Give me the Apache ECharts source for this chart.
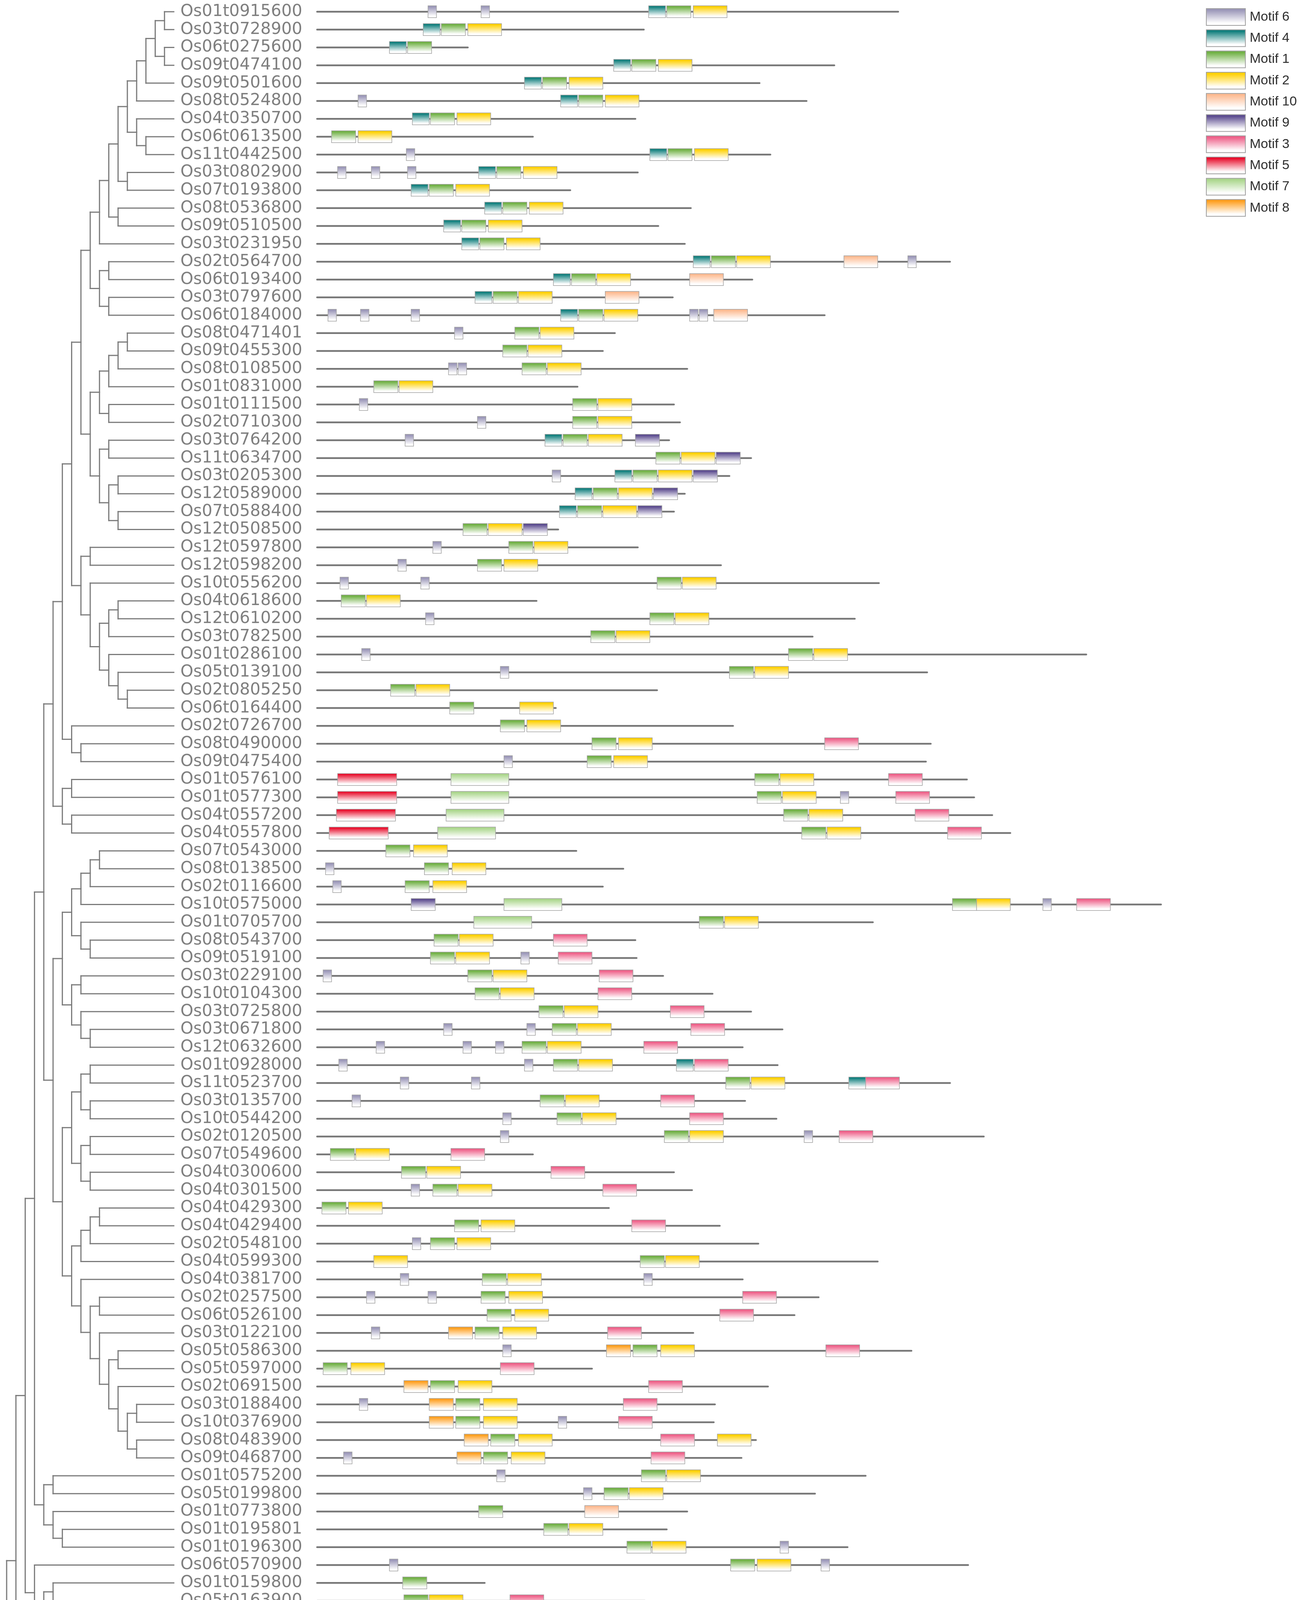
<!DOCTYPE html>
<html>
<head>
<meta charset="utf-8">
<title>Motif structure</title>
<script src="https://cdn.jsdelivr.net/npm/echarts@6/dist/echarts.min.js"></script>
<style>
    html, body { margin: 0; padding: 0; background: #fff; }
    #mainChart { width: 3334px; height: 4949px; }
</style>
</head>
<body>
<div id="mainChart"></div>
<script>
// gene order, top to bottom
var genes = [
    "Os01t0915600", "Os03t0728900", "Os06t0275600", "Os09t0474100", "Os09t0501600", "Os08t0524800",
    "Os04t0350700", "Os06t0613500", "Os11t0442500", "Os03t0802900", "Os07t0193800", "Os08t0536800",
    "Os09t0510500", "Os03t0231950", "Os02t0564700", "Os06t0193400", "Os03t0797600", "Os06t0184000",
    "Os08t0471401", "Os09t0455300", "Os08t0108500", "Os01t0831000", "Os01t0111500", "Os02t0710300",
    "Os03t0764200", "Os11t0634700", "Os03t0205300", "Os12t0589000", "Os07t0588400", "Os12t0508500",
    "Os12t0597800", "Os12t0598200", "Os10t0556200", "Os04t0618600", "Os12t0610200", "Os03t0782500",
    "Os01t0286100", "Os05t0139100", "Os02t0805250", "Os06t0164400", "Os02t0726700", "Os08t0490000",
    "Os09t0475400", "Os01t0576100", "Os01t0577300", "Os04t0557200", "Os04t0557800", "Os07t0543000",
    "Os08t0138500", "Os02t0116600", "Os10t0575000", "Os01t0705700", "Os08t0543700", "Os09t0519100",
    "Os03t0229100", "Os10t0104300", "Os03t0725800", "Os03t0671800", "Os12t0632600", "Os01t0928000",
    "Os11t0523700", "Os03t0135700", "Os10t0544200", "Os02t0120500", "Os07t0549600", "Os04t0300600",
    "Os04t0301500", "Os04t0429300", "Os04t0429400", "Os02t0548100", "Os04t0599300", "Os04t0381700",
    "Os02t0257500", "Os06t0526100", "Os03t0122100", "Os05t0586300", "Os05t0597000", "Os02t0691500",
    "Os03t0188400", "Os10t0376900", "Os08t0483900", "Os09t0468700", "Os01t0575200", "Os05t0199800",
    "Os01t0773800", "Os01t0195801", "Os01t0196300", "Os06t0570900", "Os01t0159800", "Os05t0163900",
    "Os01t0218100", "Os08t0477900", "Os03t0811400", "Os03t0260600", "Os08t0432800", "Os09t0410700",
    "Os02t0221100", "Os04t0489600", "Os05t0455400", "Os07t0143200", "Os08t0506700", "Os09t0487900",
    "Os01t0900800", "Os09t0463900", "Os01t0952800", "Os02t0433600"
];

var geneLength = [
    482, 271, 125, 429, 367, 406, 264, 179, 376, 266, 210, 310, 283, 305, 525, 361, 295, 421,
    247, 237, 307, 216, 296, 301, 292, 360, 342, 305, 296, 200, 266, 335, 466, 182, 446, 411,
    638, 506, 282, 198, 345, 509, 505, 539, 545, 560, 575, 215, 254, 237, 700, 461, 264, 265,
    287, 328, 360, 386, 353, 382, 525, 355, 381, 553, 179, 296, 311, 242, 334, 366, 465, 353,
    416, 396, 312, 493, 228, 374, 330, 329, 364, 352, 455, 413, 307, 290, 440, 540, 139, 272,
    268, 224, 269, 410, 346, 364, 648, 171, 79, 248, 400, 402, 176, 266, 181, 344
];

// [motif, start] for every gene, same order as genes
var motifSites = [
    [[6, 92], [6, 136], [4, 275], [1, 290], [2, 312]],
    [[4, 88], [1, 103], [2, 125]],
    [[4, 60], [1, 75]],
    [[4, 246], [1, 261], [2, 283]],
    [[4, 172], [1, 187], [2, 209]],
    [[6, 34], [4, 202], [1, 217], [2, 239]],
    [[4, 79], [1, 94], [2, 116]],
    [[1, 12], [2, 34]],
    [[6, 74], [4, 276], [1, 291], [2, 313]],
    [[6, 17], [6, 45], [6, 75], [4, 134], [1, 149], [2, 171]],
    [[4, 78], [1, 93], [2, 115]],
    [[4, 139], [1, 154], [2, 176]],
    [[4, 105], [1, 120], [2, 142]],
    [[4, 120], [1, 135], [2, 157]],
    [[4, 312], [1, 327], [2, 348], [10, 437], [6, 490]],
    [[4, 196], [1, 211], [2, 232], [10, 309]],
    [[4, 131], [1, 146], [2, 167], [10, 239]],
    [[6, 9], [6, 36], [6, 78], [4, 202], [1, 217], [2, 238], [6, 309], [6, 317], [10, 329]],
    [[6, 114], [1, 164], [2, 185]],
    [[1, 154], [2, 175]],
    [[6, 109], [6, 117], [1, 170], [2, 191]],
    [[1, 47], [2, 68]],
    [[6, 35], [1, 212], [2, 233]],
    [[6, 133], [1, 212], [2, 233]],
    [[6, 73], [4, 189], [1, 204], [2, 225], [9, 264]],
    [[1, 281], [2, 302], [9, 331]],
    [[6, 195], [4, 247], [1, 262], [2, 283], [9, 312]],
    [[4, 214], [1, 229], [2, 250], [9, 279]],
    [[4, 201], [1, 216], [2, 237], [9, 266]],
    [[1, 121], [2, 142], [9, 171]],
    [[6, 96], [1, 159], [2, 180]],
    [[6, 67], [1, 133], [2, 155]],
    [[6, 19], [6, 86], [1, 282], [2, 303]],
    [[1, 20], [2, 41]],
    [[6, 90], [1, 276], [2, 297]],
    [[1, 227], [2, 248]],
    [[6, 37], [1, 391], [2, 412]],
    [[6, 152], [1, 342], [2, 363]],
    [[1, 61], [2, 82]],
    [[1, 110], [2, 168]],
    [[1, 152], [2, 174]],
    [[1, 228], [2, 250], [3, 421]],
    [[6, 155], [1, 224], [2, 246]],
    [[5, 17], [7, 111], [1, 363], [2, 384], [3, 474]],
    [[5, 17], [7, 111], [1, 365], [2, 386], [6, 434], [3, 480]],
    [[5, 16], [7, 107], [1, 387], [2, 408], [3, 496]],
    [[5, 10], [7, 100], [1, 402], [2, 423], [3, 523]],
    [[1, 57], [2, 80]],
    [[6, 7], [1, 89], [2, 112]],
    [[6, 13], [1, 73], [2, 96]],
    [[9, 78], [7, 155], [1, 527], [2, 547], [6, 602], [3, 630]],
    [[7, 130], [1, 317], [2, 338]],
    [[1, 97], [2, 118], [3, 196]],
    [[1, 94], [2, 115], [6, 169], [3, 200]],
    [[6, 5], [1, 125], [2, 146], [3, 234]],
    [[1, 131], [2, 152], [3, 233]],
    [[1, 184], [2, 205], [3, 293]],
    [[6, 105], [6, 174], [1, 195], [2, 216], [3, 310]],
    [[6, 49], [6, 121], [6, 148], [1, 170], [2, 191], [3, 271]],
    [[6, 18], [6, 172], [1, 196], [2, 217], [4, 298], [3, 313]],
    [[6, 69], [6, 128], [1, 339], [2, 360], [4, 441], [3, 455]],
    [[6, 29], [1, 185], [2, 206], [3, 285]],
    [[6, 154], [1, 199], [2, 220], [3, 309]],
    [[6, 152], [1, 288], [2, 309], [6, 404], [3, 433]],
    [[1, 11], [2, 32], [3, 111]],
    [[1, 70], [2, 91], [3, 194]],
    [[6, 78], [1, 96], [2, 117], [3, 237]],
    [[1, 4], [2, 26]],
    [[1, 114], [2, 136], [3, 261]],
    [[6, 79], [1, 94], [2, 116]],
    [[2, 47], [1, 268], [2, 289]],
    [[6, 69], [1, 137], [2, 158], [6, 271]],
    [[6, 41], [6, 92], [1, 136], [2, 159], [3, 353]],
    [[1, 141], [2, 164], [3, 334]],
    [[6, 45], [8, 109], [1, 131], [2, 154], [3, 241]],
    [[6, 154], [8, 240], [1, 262], [2, 285], [3, 422]],
    [[1, 5], [2, 28], [3, 152]],
    [[8, 72], [1, 94], [2, 117], [3, 275]],
    [[6, 35], [8, 93], [1, 115], [2, 138], [3, 254]],
    [[8, 93], [1, 115], [2, 138], [6, 200], [3, 250]],
    [[8, 122], [1, 144], [2, 167], [3, 285], [2, 332]],
    [[6, 22], [8, 116], [1, 138], [2, 161], [3, 277]],
    [[6, 149], [1, 269], [2, 290]],
    [[6, 221], [1, 238], [2, 259]],
    [[1, 134], [10, 222]],
    [[1, 188], [2, 209]],
    [[1, 257], [2, 278], [6, 384]],
    [[6, 60], [1, 343], [2, 365], [6, 418]],
    [[1, 71]],
    [[1, 72], [2, 93], [3, 160]],
    [[1, 85], [2, 105], [3, 169]],
    [[1, 25], [2, 46], [3, 124]],
    [[1, 73], [2, 94], [6, 143], [3, 163], [6, 207]],
    [[1, 205], [2, 226], [3, 287]],
    [[1, 127], [2, 148], [3, 220], [6, 316]],
    [[1, 112], [2, 133], [3, 219]],
    [[6, 162], [6, 278], [1, 431], [2, 452], [6, 602]],
    [[6, 100]],
    [],
    [[6, 67]],
    [[6, 135], [6, 234], [6, 280], [4, 316], [1, 331], [2, 353]],
    [[6, 49], [6, 179], [4, 317], [1, 332], [2, 354]],
    [[4, 113]],
    [[1, 34], [6, 123]],
    [],
    [[1, 46], [2, 68]]
];

// legend order
var motifIds = [6, 4, 1, 2, 10, 9, 3, 5, 7, 8];
var motifLen = [7, 14, 20, 28, 28, 20, 28, 49, 48, 20];
var motifColors = ["#9a96b8", "#0f7e7c", "#6fb043", "#ffd000", "#fdba90",
                   "#5a4a8e", "#ee5f88", "#e8102e", "#aad68b", "#ff9e1c"];

var axisMax = 700, axisStep = 100;

// tree: [clade, child, child, ...]
var clades = [
    ["a1", "Os01t0915600", "Os03t0728900"], ["a2", "Os06t0275600", "Os09t0474100"],
    ["a3", "a1", "a2"], ["a4", "a3", "Os09t0501600"], ["a5", "a4", "Os08t0524800"],
    ["a6", "Os06t0613500", "Os11t0442500"], ["a7", "Os04t0350700", "a6"], ["a8", "a5", "a7"],
    ["a9", "Os03t0802900", "Os07t0193800"], ["a10", "a8", "a9"],
    ["a11", "Os08t0536800", "Os09t0510500"], ["a12", "a10", "a11"], ["a13", "a12", "Os03t0231950"],
    ["a14", "Os02t0564700", "Os06t0193400"], ["a15", "Os03t0797600", "Os06t0184000"],
    ["a16", "a14", "a15"], ["a17", "a13", "a16"],
    ["b1", "Os08t0471401", "Os09t0455300"], ["b2", "b1", "Os08t0108500"], ["b3", "b2", "Os01t0831000"],
    ["b4", "Os01t0111500", "Os02t0710300"], ["b5", "b3", "b4"],
    ["b6", "Os03t0764200", "Os11t0634700"], ["b7", "Os03t0205300", "Os12t0589000"],
    ["b8", "Os07t0588400", "Os12t0508500"], ["b9", "b7", "b8"], ["b10", "b6", "b9"],
    ["b11", "b5", "b10"], ["b12", "a17", "b11"],
    ["c1", "Os12t0597800", "Os12t0598200"], ["c2", "Os04t0618600", "Os12t0610200"],
    ["c3", "c2", "Os03t0782500"], ["c4", "Os02t0805250", "Os06t0164400"], ["c5", "Os05t0139100", "c4"],
    ["c6", "Os01t0286100", "c5"], ["c7", "c3", "c6"], ["c8", "Os10t0556200", "c7"], ["c9", "c1", "c8"],
    ["c10", "b12", "c9"], ["c11", "Os08t0490000", "Os09t0475400"], ["c12", "Os02t0726700", "c11"],
    ["c13", "c10", "c12"], ["c14", "Os01t0576100", "Os01t0577300"],
    ["c15", "Os04t0557200", "Os04t0557800"], ["c16", "c14", "c15"], ["c17", "c13", "c16"],
    ["d1", "Os07t0543000", "Os08t0138500"], ["d2", "d1", "Os02t0116600"], ["d3", "d2", "Os10t0575000"],
    ["d4", "Os08t0543700", "Os09t0519100"], ["d5", "Os01t0705700", "d4"], ["d6", "d3", "d5"],
    ["d7", "Os03t0229100", "Os10t0104300"], ["d8", "Os03t0671800", "Os12t0632600"],
    ["d9", "Os03t0725800", "d8"], ["d10", "d7", "d9"], ["d11", "d6", "d10"],
    ["e1", "Os01t0928000", "Os11t0523700"], ["e2", "Os03t0135700", "Os10t0544200"], ["e3", "e1", "e2"],
    ["e4", "Os02t0120500", "Os07t0549600"], ["e5", "Os04t0300600", "Os04t0301500"], ["e6", "e4", "e5"],
    ["e7", "e3", "e6"],
    ["f1", "Os04t0429300", "Os04t0429400"], ["f2", "f1", "Os02t0548100"], ["f3", "f2", "Os04t0599300"],
    ["f4", "Os02t0257500", "Os06t0526100"], ["f5", "Os05t0586300", "Os05t0597000"],
    ["f6", "Os03t0188400", "Os10t0376900"], ["f7", "Os08t0483900", "Os09t0468700"], ["f8", "f6", "f7"],
    ["f9", "Os02t0691500", "f8"], ["f10", "f5", "f9"], ["f11", "Os03t0122100", "f10"],
    ["f12", "f4", "f11"], ["f13", "Os04t0381700", "f12"], ["f14", "f3", "f13"], ["f15", "e7", "f14"],
    ["f16", "d11", "f15"], ["f17", "c17", "f16"],
    ["g1", "Os01t0575200", "Os05t0199800"], ["g2", "Os01t0195801", "Os01t0196300"],
    ["g3", "Os01t0773800", "g2"], ["g4", "g1", "g3"], ["g5", "f17", "g4"],
    ["h1", "Os01t0159800", "Os05t0163900"], ["h2", "Os01t0218100", "Os08t0477900"],
    ["h3", "Os08t0432800", "Os09t0410700"], ["h4", "Os03t0260600", "h3"], ["h5", "Os03t0811400", "h4"],
    ["h6", "h2", "h5"], ["h7", "h1", "h6"], ["h8", "Os06t0570900", "h7"], ["h9", "g5", "h8"],
    ["h10", "h9", "Os02t0221100"],
    ["i1", "Os04t0489600", "Os05t0455400"], ["i2", "Os08t0506700", "Os09t0487900"],
    ["i3", "Os07t0143200", "i2"], ["i4", "i1", "i3"],
    ["i5", "Os01t0900800", "Os09t0463900"], ["i6", "Os01t0952800", "Os02t0433600"], ["i7", "i5", "i6"],
    ["root", "h10", "i4", "i7"]
];

// ---- tree layout: depth from root, y = middle of outer children ----
var kids = {};
clades.forEach(function (c) { kids[c[0]] = c.slice(1); });
var depth = {}, ypos = {}, maxDepth = 0;
function place(n, d) {
    depth[n] = d;
    if (!kids[n]) { ypos[n] = genes.indexOf(n); return ypos[n]; }
    if (d > maxDepth) maxDepth = d;
    var ys = kids[n].map(function (k) { return place(k, d + 1); });
    ypos[n] = (ys[0] + ys[ys.length - 1]) / 2;
    return ypos[n];
}
place("root", 0);
var tipDepth = maxDepth + 1;

var segs = [];
clades.forEach(function (c) {
    var n = c[0], ch = kids[n];
    segs.push([depth[n], ypos[ch[0]], depth[n], ypos[ch[ch.length - 1]]]);
    ch.forEach(function (k) {
        segs.push([depth[n], ypos[k], kids[k] ? depth[k] : tipDepth, ypos[k]]);
    });
});

var lineGray = "#7b7b7b";
var yMin = -0.6, yMax = genes.length;

function gradient(col) {
    return new echarts.graphic.LinearGradient(0, 0, 0, 1, [
        { offset: 0, color: col }, { offset: 0.1, color: col },
        { offset: 0.85, color: "#ffffff" }, { offset: 1, color: "#ffffff" }
    ]);
}

function motifRender(col) {
    return function (params, api) {
        var a = api.coord([api.value(0), api.value(1)]);
        var b = api.coord([api.value(2), api.value(1)]);
        var h = api.size([0, 1])[1] * 0.667;
        return {
            type: "rect",
            shape: { x: a[0], y: a[1] - h / 2, width: b[0] - a[0], height: h },
            style: { fill: gradient(col), stroke: "#a4a4a4", lineWidth: 1.5 }
        };
    };
}

var series = [];

// tree branches
series.push({
    type: "custom", xAxisIndex: 0, yAxisIndex: 0, silent: true,
    encode: { x: [0, 2], y: [1, 3] },
    data: segs,
    renderItem: function (params, api) {
        var p = api.coord([api.value(0), api.value(1)]);
        var q = api.coord([api.value(2), api.value(3)]);
        return {
            type: "line",
            shape: { x1: p[0], y1: p[1], x2: q[0], y2: q[1] },
            style: { stroke: lineGray, lineWidth: 3, lineCap: "square" }
        };
    }
});

// gene names at the tips
series.push({
    type: "custom", xAxisIndex: 0, yAxisIndex: 0, silent: true,
    encode: { x: 0, y: 1 },
    data: genes.map(function (g, i) { return [tipDepth, i]; }),
    renderItem: function (params, api) {
        var p = api.coord([api.value(0), api.value(1)]);
        return {
            type: "text",
            style: {
                x: p[0] + 17, y: p[1], text: genes[params.dataIndex],
                textAlign: "left", textVerticalAlign: "middle",
                font: "42px 'DejaVu Sans'", fill: "#7f7f7f"
            }
        };
    }
});

// gene backbones
series.push({
    type: "custom", xAxisIndex: 1, yAxisIndex: 1, silent: true,
    encode: { x: [0, 2], y: 1 },
    data: geneLength.map(function (len, i) { return [0, i, len]; }),
    renderItem: function (params, api) {
        var p = api.coord([api.value(0), api.value(1)]);
        var q = api.coord([api.value(2), api.value(1)]);
        return {
            type: "line",
            shape: { x1: p[0], y1: p[1], x2: q[0], y2: q[1] },
            style: { stroke: "#777777", lineWidth: 4.5, lineCap: "round" }
        };
    }
});

// motif boxes, one series per motif
motifIds.forEach(function (id, k) {
    var rows = [];
    motifSites.forEach(function (sites, i) {
        sites.forEach(function (s) {
            if (s[0] === id) rows.push([s[1], i, s[1] + motifLen[k]]);
        });
    });
    series.push({
        type: "custom", name: "Motif " + id, xAxisIndex: 1, yAxisIndex: 1, silent: true, z: 5,
        encode: { x: [0, 2], y: 1 },
        itemStyle: { color: gradient(motifColors[k]) },
        data: rows,
        renderItem: motifRender(motifColors[k])
    });
});

// 5' / 3' ends of the ruler
series.push({
    type: "custom", xAxisIndex: 1, yAxisIndex: 1, silent: true,
    encode: { x: 0, y: 1 },
    data: [[0, yMax], [axisMax, yMax]],
    renderItem: function (params, api) {
        var p = api.coord([api.value(0), api.value(1)]);
        var first = params.dataIndex === 0;
        return {
            type: "text",
            style: {
                x: first ? p[0] - 3 : p[0] + 5, y: p[1] - 6,
                text: first ? "5'" : "3'",
                textAlign: first ? "right" : "left", textVerticalAlign: "middle",
                font: "45px 'DejaVu Sans Condensed', 'Liberation Sans Narrow', 'DejaVu Sans'",
                fill: "#000"
            }
        };
    }
});

var n = echarts.init(document.getElementById("mainChart"), null, { renderer: "canvas", width: 3334, height: 4949 });
n.setOption({
    backgroundColor: "#fff",
    animation: false,
    legend: {
        data: motifIds.map(function (id) { return "Motif " + id; }),
        orient: "vertical", left: 3083, top: 16,
        itemWidth: 100, itemHeight: 43, itemGap: 9.3,
        icon: "rect", selectedMode: false,
        itemStyle: { borderColor: "#a0a0a0", borderWidth: 2 },
        textStyle: {
            fontSize: 34, color: "#2e2e2e", fontFamily: "'Liberation Sans', Arial",
            padding: [0, 0, 12, 6]
        }
    },
    grid: [
        { left: 17, right: 3334 - 445, top: 2.6, bottom: 74 },
        { left: 812, right: 361, top: 2.6, bottom: 74 }
    ],
    xAxis: [
        { gridIndex: 0, type: "value", min: 0, max: tipDepth, show: false },
        {
            gridIndex: 1, type: "value", min: 0, max: axisMax, interval: axisStep, position: "bottom",
            axisLine: { show: true, onZero: false, lineStyle: { color: lineGray, width: 4 } },
            axisTick: { show: true, length: 13, lineStyle: { color: lineGray, width: 2.5 } },
            axisLabel: {
                margin: 16, fontSize: 45, color: "#000",
                fontFamily: "'DejaVu Sans Condensed', 'Liberation Sans Narrow', 'DejaVu Sans'"
            },
            splitLine: { show: false }
        }
    ],
    yAxis: [
        { gridIndex: 0, type: "value", inverse: true, min: yMin, max: yMax, show: false },
        { gridIndex: 1, type: "value", inverse: true, min: yMin, max: yMax, show: false }
    ],
    series: series
});
</script>
</body>
</html>
